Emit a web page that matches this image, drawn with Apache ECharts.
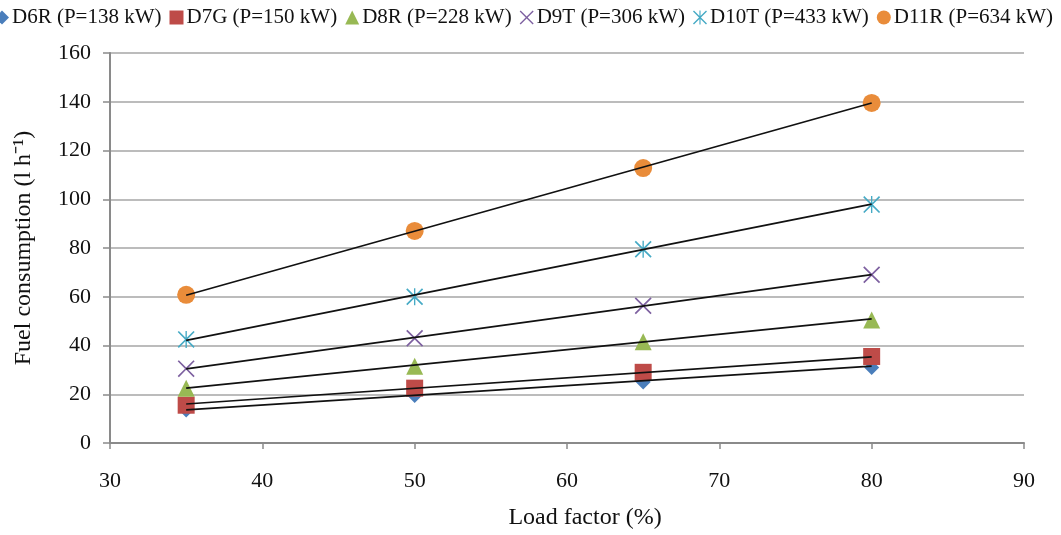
<!DOCTYPE html>
<html><head><meta charset="utf-8">
<script src="https://cdn.jsdelivr.net/npm/echarts@6/dist/echarts.min.js"></script>
<style>html,body{margin:0;padding:0;background:#fff}#c{width:1061px;height:535px}</style>
</head><body><div id="c"></div>
<script>
const loadFactor = [35, 50, 65, 80];
const seriesNames = ['D6R (P=138 kW)', 'D7G (P=150 kW)', 'D8R (P=228 kW)', 'D9T (P=306 kW)', 'D10T (P=433 kW)', 'D11R (P=634 kW)'];
const d6r = [13.5, 19.5, 25.0, 31.0];
const d7g = [15.5, 22.5, 29.0, 35.5];
const d8r = [22.5, 31.5, 41.5, 50.5];
const d9t = [30.5, 43.0, 56.3, 69.0];
const d10t = [42.5, 60.0, 79.5, 97.8];
const d11r = [60.8, 87.0, 112.8, 139.5];
// trend line end values read at load factor 35 and 80
const trendX = [35, 80];
const trendD6R = [13.6, 31.5];
const trendD7G = [16.0, 35.3];
const trendD8R = [22.5, 50.9];
const trendD9T = [30.4, 69.1];
const trendD10T = [42.1, 98.0];
const trendD11R = [60.6, 139.5];
const xTicks = [30, 40, 50, 60, 70, 80, 90];
const yTicks = [0, 20, 40, 60, 80, 100, 120, 140, 160];

const values = [d6r, d7g, d8r, d9t, d10t, d11r];
const trends = [trendD6R, trendD7G, trendD8R, trendD9T, trendD10T, trendD11R];
const colors = ['#4a7ebb', '#be4b48', '#98b954', '#7d60a0', '#46aac5', '#e98c3a'];
const xPath = 'path://M0 1.4 L1.4 0 L10 8.6 L18.6 0 L20 1.4 L11.4 10 L20 18.6 L18.6 20 L10 11.4 L1.4 20 L0 18.6 L8.6 10 Z';
const starPath = 'path://M0 1.4 L1.4 0 L10 8.6 L18.6 0 L20 1.4 L11.4 10 L20 18.6 L18.6 20 L10 11.4 L1.4 20 L0 18.6 L8.6 10 Z M9.2 0 L10.8 0 L10.8 20 L9.2 20 Z';
const symbols = ['diamond', 'rect', 'triangle', xPath, starPath, 'circle'];
const sizes = [15, 17, 17, 17, 17, 18];

const series = [];
values.forEach((v, i) => {
  series.push({
    name: seriesNames[i], type: 'scatter', symbol: symbols[i], symbolSize: sizes[i],
    itemStyle: {color: colors[i], opacity: 1}, z: 2 + i,
    data: loadFactor.map((x, j) => [x, v[j]])
  });
});
trends.forEach((t, i) => {
  series.push({
    name: 'trend' + i, type: 'line', silent: true, symbol: 'none', z: 20,
    lineStyle: {color: '#111', width: 1.7},
    data: trendX.map((x, j) => [x, t[j]])
  });
});

const font = 'Liberation Serif';
const chart = echarts.init(document.getElementById('c'));
chart.setOption({
  animation: false,
  textStyle: {fontFamily: font},
  legend: {
    data: seriesNames, top: 2, left: -10, width: 1200, itemGap: 8, itemWidth: 14, itemHeight: 14,
    textStyle: {fontFamily: font, fontSize: 21, color: '#111', padding: [0, 0, 0, -2]}
  },
  grid: {left: 110, right: 37, top: 53, bottom: 91, containLabel: false},
  xAxis: {
    type: 'value', min: xTicks[0], max: xTicks[xTicks.length - 1], interval: 10,
    name: 'Load factor (%)', nameLocation: 'middle', nameGap: 63,
    nameTextStyle: {fontFamily: font, fontSize: 24, color: '#111', padding: [0, 0, 0, 36]},
    axisLine: {lineStyle: {color: '#8a8a8a', width: 2}},
    axisTick: {show: true, length: 6, lineStyle: {color: '#8a8a8a', width: 1.5}},
    axisLabel: {fontFamily: font, fontSize: 22, color: '#111', margin: 27},
    splitLine: {show: false}
  },
  yAxis: {
    type: 'value', min: yTicks[0], max: yTicks[yTicks.length - 1], interval: 20,
    name: 'Fuel consumption (l h\u207B\u00B9)', nameLocation: 'middle', nameGap: 74,
    nameTextStyle: {fontFamily: font, fontSize: 24, color: '#111'},
    axisLine: {show: true, lineStyle: {color: '#8a8a8a', width: 2}},
    axisTick: {show: true, length: 7, lineStyle: {color: '#8a8a8a', width: 1.5}},
    axisLabel: {fontFamily: font, fontSize: 22, color: '#111', margin: 19},
    splitLine: {show: true, lineStyle: {color: '#a6a6a6', width: 1.5}}
  },
  series: series
});
</script></body></html>
